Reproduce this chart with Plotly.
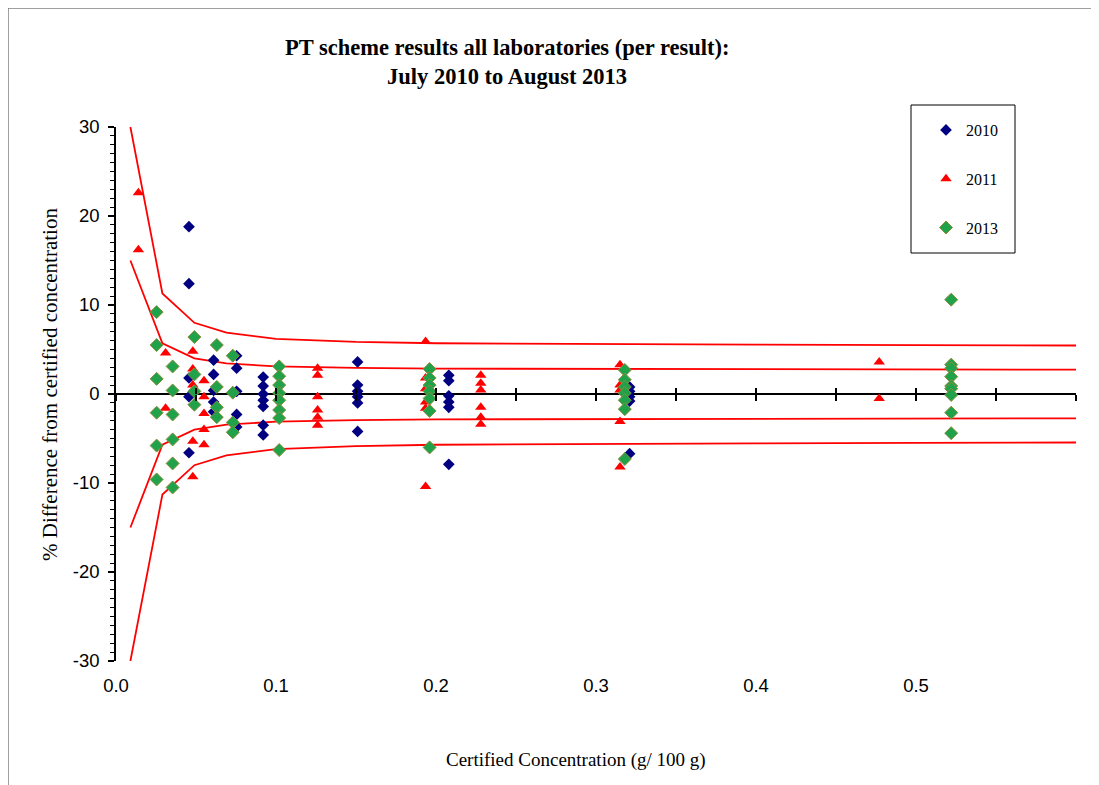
import plotly.graph_objects as go

# ---- data ----
x2010 = [0.0456]*5 + [0.061]*5 + [0.0754]*5 + [0.092]*7 + [0.151]*6 + [0.208]*6 + [0.321]*5
y2010 = [18.8, 12.4, 1.8, -0.3, -6.6,
         3.8, 2.2, 0.4, -0.9, -2.0,
         4.3, 2.9, 0.3, -2.3, -3.7,
         1.9, 0.9, 0.0, -0.7, -1.4, -3.5, -4.6,
         3.6, 1.0, 0.3, -0.3, -1.0, -4.2,
         2.1, 1.5, -0.2, -0.9, -1.5, -7.9,
         0.8, 0.3, -0.3, -0.8, -6.7]

x2011 = [0.014]*2 + [0.031]*2 + [0.048]*5 + [0.055]*5 + [0.126]*6 + [0.1935]*6 + [0.228]*6 + [0.315]*5 + [0.477]*2
y2011 = [22.6, 16.2,
         4.6, -1.6,
         4.8, 2.8, 1.0, -5.3, -9.3,
         1.5, -0.3, -2.2, -4.0, -5.7,
         2.9, 2.1, -0.3, -1.8, -2.6, -3.5,
         5.9, 1.8, 0.6, -0.9, -1.6, -10.4,
         2.1, 1.2, 0.45, -1.5, -2.6, -3.4,
         3.3, 1.0, 0.45, -3.1, -8.2,
         3.6, -0.5]

x2013 = [0.0254]*6 + [0.0354]*6 + [0.049]*4 + [0.063]*4 + [0.073]*4 + [0.102]*8 + [0.196]*7 + [0.318]*7 + [0.522]*9
y2013 = [9.2, 5.5, 1.7, -2.1, -5.8, -9.6,
         3.1, 0.4, -2.3, -5.1, -7.8, -10.5,
         6.4, 2.2, 0.3, -1.2,
         5.5, 0.8, -1.5, -2.6,
         4.3, 0.15, -3.2, -4.3,
         3.1, 2.0, 1.0, 0.1, -0.7, -1.8, -2.7, -6.3,
         2.8, 1.8, 1.0, 0.3, -0.5, -1.9, -6.0,
         2.7, 1.6, 0.8, 0.1, -0.7, -1.7, -7.3,
         10.6, 3.3, 2.9, 1.95, 0.9, 0.6, -0.1, -2.1, -4.4]

# limit curves
x_lim = [0.009, 0.029, 0.049, 0.069, 0.10, 0.15, 0.20, 0.30, 0.40, 0.50, 0.60]
outer_lim = [30, 11.3, 8.0, 6.9, 6.2, 5.85, 5.7, 5.6, 5.55, 5.5, 5.45]
inner_lim = [15, 5.7, 4.0, 3.45, 3.1, 2.93, 2.85, 2.8, 2.77, 2.75, 2.73]

x_ticks = [0.0, 0.1, 0.2, 0.3, 0.4, 0.5]
x_ticktext = ["0.0", "0.1", "0.2", "0.3", "0.4", "0.5"]
y_ticks = [-30, -20, -10, 0, 10, 20, 30]
y_ticktext = ["-30", "-20", "-10", "0", "10", "20", "30"]

SERIF = "Liberation Serif, Times New Roman, serif"
SANS = "Liberation Sans, Arial, sans-serif"

# page pixel -> paper coordinates (plot area spans x 116..1076, y 127..661 on the page)
def px(xp):
    return (xp - 116) / 960

def py(yp):
    return (661 - yp) / 534

fig = go.Figure()

for sign in (1, -1):
    for lim in (outer_lim, inner_lim):
        fig.add_trace(go.Scatter(x=x_lim, y=[sign*v for v in lim], mode="lines",
                                 line=dict(color="#FF0000", width=1.8),
                                 showlegend=False, hoverinfo="skip"))

fig.add_trace(go.Scatter(x=x2010, y=y2010, mode="markers", name="2010", legendgroup="a",
                         marker=dict(symbol="diamond", size=9, color="#000080")))
fig.add_trace(go.Scatter(x=x2011, y=y2011, mode="markers", name="2011", legendgroup="b",
                         marker=dict(symbol="triangle-up", size=10, color="#FF0000")))
fig.add_trace(go.Scatter(x=x2013, y=y2013, mode="markers", name="2013", legendgroup="c",
                         marker=dict(symbol="diamond", size=10, color="#20A24A",
                                     line=dict(color="#8C8C3C", width=1))))

# invisible helpers so the tick axes on the zero line get drawn
for ax in ("x2", "x3"):
    fig.add_trace(go.Scatter(x=[0.6], y=[0], xaxis=ax, mode="markers",
                             marker=dict(opacity=0), showlegend=False, hoverinfo="skip"))

tickaxis = dict(overlaying="x", anchor="free", position=0.5, range=[0, 0.6],
                tick0=0, dtick=0.05, ticklen=6, tickwidth=1.5, tickcolor="black",
                showticklabels=False, showline=False, showgrid=False, zeroline=False)

fig.update_layout(
    width=1091, height=777,
    margin=dict(l=108, r=23, t=119, b=124),
    paper_bgcolor="white", plot_bgcolor="white",
    showlegend=True,
    legend=dict(x=px(926), y=py(113), xanchor="left", yanchor="top",
                bgcolor="rgba(0,0,0,0)", borderwidth=0, tracegroupgap=25,
                font=dict(family=SERIF, size=16, color="black")),
    xaxis=dict(range=[0, 0.6], tickvals=x_ticks, ticktext=x_ticktext,
               ticks="outside", ticklen=8, tickcolor="rgba(0,0,0,0)",
               showline=False, showgrid=False, zeroline=False,
               tickfont=dict(family=SANS, size=18.5, color="black")),
    xaxis2=dict(ticks="outside", **tickaxis),
    xaxis3=dict(ticks="inside", **tickaxis),
    yaxis=dict(range=[-30, 30], tickvals=y_ticks, ticktext=y_ticktext,
               ticks="outside", ticklen=6, tickwidth=1.5, tickcolor="black",
               ticklabelstandoff=5,
               minor=dict(dtick=1, ticks="outside", ticklen=4, tickcolor="black", tickwidth=1),
               showline=True, linecolor="black", linewidth=1.5,
               showgrid=False, zeroline=True, zerolinecolor="black", zerolinewidth=2,
               tickfont=dict(family=SANS, size=18.5, color="black")),
)

# title as two lines
fig.add_annotation(text="<b>PT scheme results all laboratories (per result):</b>",
                   xref="paper", yref="paper", x=px(507), y=py(48),
                   showarrow=False, xanchor="center", yanchor="middle",
                   font=dict(family=SERIF, size=22.5, color="black"))
fig.add_annotation(text="<b>July 2010 to August 2013</b>",
                   xref="paper", yref="paper", x=px(507), y=py(76),
                   showarrow=False, xanchor="center", yanchor="middle",
                   font=dict(family=SERIF, size=22.5, color="black"))
# axis titles
fig.add_annotation(text="Certified Concentration (g/ 100 g)",
                   xref="paper", yref="paper", x=px(576), y=py(760),
                   showarrow=False, xanchor="center", yanchor="middle",
                   font=dict(family=SERIF, size=19, color="black"))
fig.add_annotation(text="% Difference from certified concentration",
                   xref="paper", yref="paper", x=px(50), y=py(385), textangle=-90,
                   showarrow=False, xanchor="center", yanchor="middle",
                   font=dict(family=SERIF, size=21, color="black"))

# legend frame
fig.add_shape(type="rect", xref="paper", yref="paper",
              x0=px(911), x1=px(1015), y0=py(253), y1=py(105),
              line=dict(color="black", width=1), fillcolor="rgba(0,0,0,0)")
# outer chart border
fig.add_shape(type="rect", xref="paper", yref="paper",
              x0=px(8), x1=px(1120), y0=py(800), y1=py(8),
              line=dict(color="#808080", width=1.5), fillcolor="rgba(0,0,0,0)")

fig.write_html("out.html")
